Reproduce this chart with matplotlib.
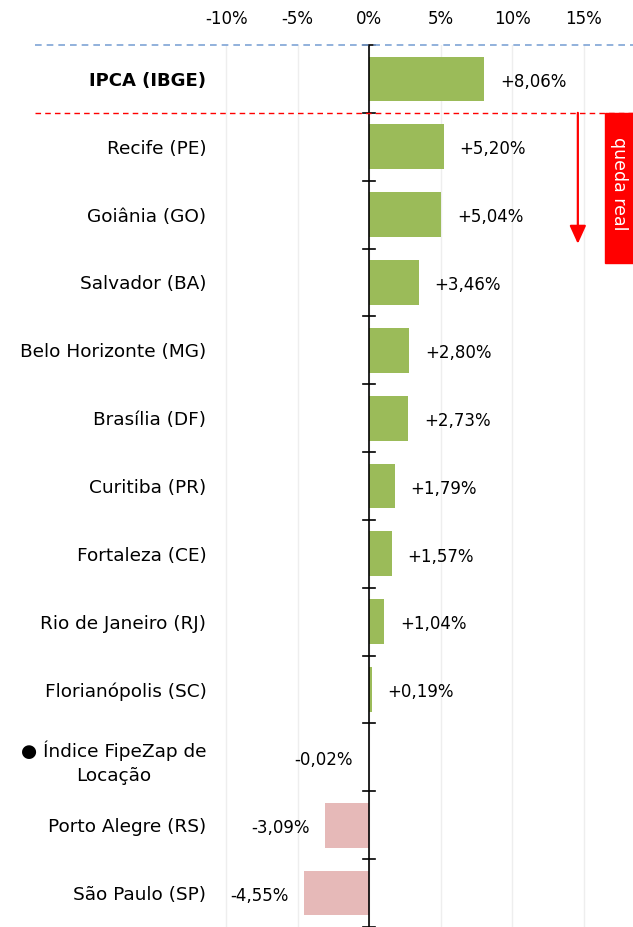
import numpy as np
import matplotlib.pyplot as plt

plt.rcParams['font.family'] = ['DejaVu Sans']

# data
cities = ['IPCA (IBGE)', 'Recife (PE)', 'Goiânia (GO)', 'Salvador (BA)',
          'Belo Horizonte (MG)', 'Brasília (DF)', 'Curitiba (PR)',
          'Fortaleza (CE)', 'Rio de Janeiro (RJ)', 'Florianópolis (SC)',
          '● Índice FipeZap de\nLocação', 'Porto Alegre (RS)', 'São Paulo (SP)']
values = [8.06, 5.20, 5.04, 3.46, 2.80, 2.73, 1.79, 1.57, 1.04, 0.19,
          -0.02, -3.09, -4.55]
ticks = [-10, -5, 0, 5, 10, 15]

green = '#9BBB59'
pink = '#E6B9B8'

fig = plt.figure(figsize=(6.33, 9.27), dpi=100)
ax = fig.add_axes([212/633, 0, 1 - 212/633, 1 - 45/927])

y = np.arange(len(cities))
colors = []
for i, v in enumerate(values):
    if i == 10:
        colors.append('none')
    elif v >= 0:
        colors.append(green)
    else:
        colors.append(pink)
ax.barh(y, values, height=0.66, color=colors, zorder=2)

ax.set_ylim(len(cities) - 0.5, -0.5)
ax.set_xlim(-11, 18.46)

# value labels
for i, v in enumerate(values):
    txt = ('+' if v > 0 else '') + ('%.2f%%' % v).replace('.', ',')
    if v >= 0:
        ax.text(v + 1.1, i + 0.04, txt, ha='left', va='center', fontsize=12)
    else:
        ax.text(v - 1.1, i + 0.04, txt, ha='right', va='center', fontsize=12)

# axes styling
for s in ax.spines.values():
    s.set_visible(False)
ax.xaxis.tick_top()
ax.set_xticks(ticks)
ax.set_xticklabels(['%d%%' % t for t in ticks], fontsize=12)
ax.tick_params(axis='x', length=0, pad=12)
ax.grid(axis='x', color='#eeeeee', lw=1, zorder=0)
ax.set_yticks(y)
ax.set_yticklabels(cities, fontsize=13.3, multialignment='center', linespacing=1.45)
ax.tick_params(axis='y', length=0, pad=4)
ax.get_yticklabels()[0].set_fontweight('bold')
ax.get_yticklabels()[0].set_fontsize(13)

# zero line with small ticks at row boundaries
ax.axvline(0, color='black', lw=1.2, zorder=3)
for b in np.arange(-0.5, len(cities), 1):
    ax.plot([-0.4, 0.4], [b, b], color='black', lw=1.2, zorder=3, clip_on=False)

# dashed reference lines
ax.plot([-23.4, 18.46], [-0.5, -0.5], color='#7fa4d6', lw=1.2, ls=(0, (4, 3)),
        clip_on=False, zorder=4)
ax.plot([-23.4, 18.46], [0.5, 0.5], color='red', lw=1, ls=(0, (4, 3)),
        clip_on=False, zorder=4)

# arrow and "queda real" box
ax.annotate('', xy=(14.6, 2.43), xytext=(14.6, 0.5),
            arrowprops=dict(arrowstyle='-|>,head_length=1.1,head_width=0.5',
                            color='red', lw=1.6, shrinkA=0, shrinkB=0))
ax.add_patch(plt.Rectangle((16.5, 0.5), 2.0, 2.21, color='red', zorder=5,
                           clip_on=False))
ax.text(17.5, 1.55, 'queda real', rotation=-90, color='white', fontsize=12.5,
        ha='center', va='center', zorder=6)

fig.savefig('out.png', dpi=100)
